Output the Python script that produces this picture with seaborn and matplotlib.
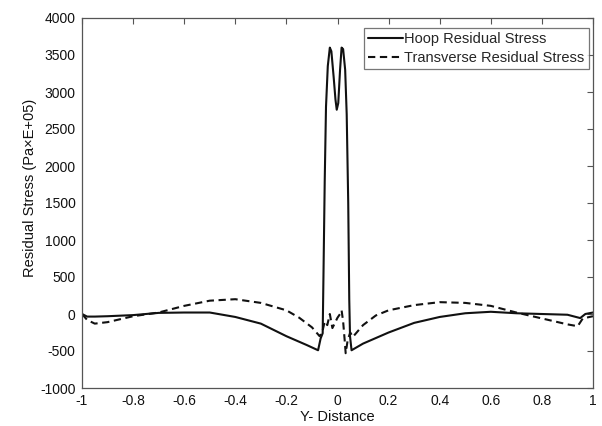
import matplotlib
matplotlib.use("Agg")
import matplotlib.pyplot as plt
import seaborn as sns
import pandas as pd

hoop_x = [-1.0, -0.98, -0.95, -0.9, -0.8, -0.7, -0.6, -0.5, -0.4, -0.3, -0.2, -0.12,
          -0.076, -0.066, -0.058, -0.055, -0.05, -0.045, -0.038, -0.03, -0.024, -0.015,
          -0.008, -0.003, 0.003, 0.01, 0.016, 0.022, 0.03, 0.036, 0.042, 0.046, 0.049,
          0.055, 0.1, 0.2, 0.3, 0.4, 0.5, 0.6, 0.7, 0.8, 0.9, 0.95, 0.97, 1.0]
hoop_y = [0, -35, -35, -30, -15, 15, 20, 20, -40, -130, -300, -420,
          -490, -330, -260, 500, 1800, 2800, 3350, 3600, 3550, 3200,
          2900, 2760, 2850, 3300, 3600, 3580, 3300, 2700, 1500, 200, -300,
          -490, -400, -250, -120, -40, 10, 30, 10, 0, -10, -55, 0, 20]

trans_x = [-1.0, -0.98, -0.95, -0.9, -0.8, -0.7, -0.6, -0.5, -0.4, -0.3, -0.2, -0.15,
           -0.1, -0.07, -0.06, -0.05, -0.04, -0.03, -0.02, -0.01, 0.0, 0.01, 0.016,
           0.022, 0.028, 0.032, 0.04, 0.05, 0.06, 0.1, 0.15, 0.2, 0.3, 0.4, 0.5, 0.6,
           0.7, 0.8, 0.9, 0.94, 0.96, 1.0]
trans_y = [0, -80, -130, -110, -30, 20, 110, 180, 200, 150, 50, -50,
           -180, -300, -250, -100, -150, 0, -190, -120, -50, 0, 50,
           -100, -350, -530, -350, -250, -310, -150, -20, 50, 120, 160, 150, 110,
           20, -60, -140, -165, -60, -30]

labels = ["Hoop Residual Stress", "Transverse Residual Stress"]
x_ticks = [-1, -0.8, -0.6, -0.4, -0.2, 0, 0.2, 0.4, 0.6, 0.8, 1]
x_ticklabels = ["-1", "-0.8", "-0.6", "-0.4", "-0.2", "0", "0.2", "0.4", "0.6", "0.8", "1"]
y_ticks = [-1000, -500, 0, 500, 1000, 1500, 2000, 2500, 3000, 3500, 4000]

df = pd.concat([
    pd.DataFrame({"x": hoop_x, "y": hoop_y, "series": labels[0]}),
    pd.DataFrame({"x": trans_x, "y": trans_y, "series": labels[1]}),
])

sns.set_style("white")
plt.rcParams['font.family'] = ['Liberation Sans', 'DejaVu Sans']
plt.rcParams['axes.unicode_minus'] = False

fig = plt.figure(figsize=(6.02, 4.26), dpi=100)
ax = fig.add_axes([82/602, 38/426, (593-82)/602, (388-18)/426])

sns.lineplot(data=df, x="x", y="y", hue="series", style="series",
             palette={labels[0]: "#111111", labels[1]: "#111111"},
             dashes={labels[0]: "", labels[1]: (3.5, 2.2)},
             estimator=None, sort=False, linewidth=1.5, ax=ax)

ax.set_xlim(-1, 1)
ax.set_ylim(-1000, 4000)
ax.set_xticks(x_ticks)
ax.set_xticklabels(x_ticklabels)
ax.set_yticks(y_ticks)
ax.tick_params(direction="in", top=True, right=True, length=4, width=0.8,
               colors="#555555", labelcolor="#111111", labelsize=10)
ax.tick_params(axis="x", pad=4.5)
ax.tick_params(axis="y", pad=4.5)
for s in ax.spines.values():
    s.set_color("#555555")
    s.set_linewidth(0.9)
ax.set_xlabel("Y- Distance", fontsize=10.5, color="#111111", labelpad=1)
ax.set_ylabel("Residual Stress (Pa×E+05)", fontsize=10.5, color="#111111")
ax.yaxis.set_label_coords(-0.089, 0.54)

ax.legend(loc="upper right", bbox_to_anchor=(589/602, 1 - 27.5/426),
          bbox_transform=fig.transFigure, frameon=True, fancybox=False,
          edgecolor="#555555", fontsize=10.5, handlelength=2.4, handletextpad=0.1,
          borderpad=0.3, labelspacing=0.35, borderaxespad=0, title=None)
leg = ax.get_legend()
leg.get_frame().set_linewidth(0.9)

fig.savefig("out.png", dpi=100)
